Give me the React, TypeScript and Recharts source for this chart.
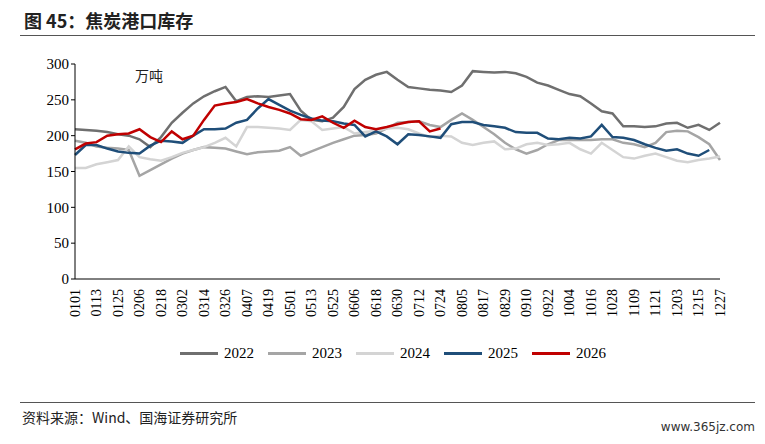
import React from 'react';
import { LineChart, Line, XAxis, YAxis } from 'recharts';

// weekly-ish dates, every 6 days; labels shown every 12 days
const dates = [
  '0101', '0107', '0113', '0119', '0125', '0131', '0206', '0212', '0218', '0224',
  '0302', '0308', '0314', '0320', '0326', '0401', '0407', '0413', '0419', '0425',
  '0501', '0507', '0513', '0519', '0525', '0531', '0606', '0612', '0618', '0624',
  '0630', '0706', '0712', '0718', '0724', '0730', '0805', '0811', '0817', '0823',
  '0829', '0904', '0910', '0916', '0922', '0928', '1004', '1010', '1016', '1022',
  '1028', '1103', '1109', '1115', '1121', '1127', '1203', '1209', '1215', '1221', '1227',
];

const s2022 = [
  209, 208, 207, 205, 202, 200, 195, 184, 198, 218, 232, 245, 255, 262, 268, 248, 254, 255, 254, 256,
  258, 235, 222, 220, 225, 240, 265, 278, 285, 289, 278, 268, 266, 264, 263, 261, 270, 290, 289, 288,
  289, 287, 282, 274, 270, 264, 258, 255, 245, 234, 231, 213, 213, 212, 213, 217, 218, 211, 215, 208, 218,
];
const s2023 = [
  193, 190, 185, 183, 182, 180, 144, 152, 160, 168, 175, 180, 184, 183, 182, 178, 174, 177, 178, 179,
  184, 172, 178, 184, 190, 195, 200, 201, 203, 210, 218, 219, 220, 215, 212, 222, 231, 222, 212, 202,
  190, 181, 175, 180, 188, 194, 194, 194, 194, 195, 195, 190, 188, 184, 190, 205, 207, 206, 198, 188, 166,
];
const s2024 = [
  155, 155, 160, 163, 166, 185, 170, 167, 165, 170, 176, 180, 184, 190, 197, 185, 212, 212, 211, 210,
  208, 222, 220, 208, 210, 212, 203, 205, 207, 210, 211, 209, 203, 198, 200, 199, 190, 187, 190, 192,
  181, 182, 188, 190, 187, 188, 190, 181, 175, 190, 180, 170, 168, 172, 175, 170, 165, 163, 166, 168, 171,
];
const s2025 = [
  173, 187, 187, 182, 178, 176, 175, 186, 193, 192, 190, 200, 209, 209, 210, 218, 222, 238, 251, 243,
  235, 229, 224, 221, 220, 217, 215, 199, 206, 199, 188, 202, 201, 199, 197, 216, 219, 219, 215, 213,
  211, 205, 204, 204, 196, 195, 197, 196, 199, 215, 198, 197, 194, 188, 183, 179, 181, 175, 172, 180, null,
];
const s2026 = [
  181, 189, 191, 200, 202, 203, 209, 198, 191, 206, 195, 200, 222, 242, 245, 247, 251, 245, 240, 236,
  231, 223, 222, 227, 218, 211, 221, 212, 209, 212, 216, 219, 220, 206, 210,
];

const yTicks = [0, 50, 100, 150, 200, 250, 300];

const seriesList = [
  { key: 'y2022', name: '2022', color: '#6f6f6f', values: s2022 },
  { key: 'y2023', name: '2023', color: '#a5a5a5', values: s2023 },
  { key: 'y2024', name: '2024', color: '#d4d4d4', values: s2024 },
  { key: 'y2025', name: '2025', color: '#1f4e79', values: s2025 },
  { key: 'y2026', name: '2026', color: '#c00000', values: s2026 },
];

const data = dates.map((d, i) => {
  const row: Record<string, string | number | null> = { date: d };
  seriesList.forEach(s => {
    row[s.key] = s.values[i] ?? null;
  });
  return row;
});

const serif = '"Liberation Serif", "Times New Roman", serif';
const cjk = '"Noto Sans CJK SC", sans-serif';

export default function App() {
  return (
    <div style={{ position: 'relative', width: 749, height: 428, background: '#fff' }}>
      <div style={{ position: 'absolute', left: 16, top: -1, fontFamily: cjk, fontWeight: 700, fontSize: 18, color: '#222' }}>
        图 45：焦炭港口库存
      </div>
      <div style={{ position: 'absolute', left: 12, top: 27, width: 735, borderTop: '1px solid #555' }} />
      <div style={{ position: 'absolute', left: 127, top: 57, fontFamily: cjk, fontSize: 14, color: '#222' }}>万吨</div>
      <div style={{ position: 'absolute', left: 0, top: 0 }}>
        <LineChart width={720} height={335} data={data} margin={{ top: 56, right: 8, left: 0, bottom: 0 }}>
          <XAxis
            dataKey="date"
            interval={1}
            angle={-90}
            textAnchor="end"
            height={64}
            tickLine={false}
            axisLine={{ stroke: '#000' }}
            tick={{ fontSize: 14, fill: '#000', fontFamily: serif, dx: -5, dy: 2 }}
          />
          <YAxis
            domain={[0, 300]}
            ticks={yTicks}
            width={67}
            tickSize={4}
            axisLine={{ stroke: '#000' }}
            tickLine={{ stroke: '#000' }}
            tick={{ fontSize: 15, fill: '#000', fontFamily: serif }}
          />
          {seriesList.map(s => (
            <Line
              key={s.key}
              dataKey={s.key}
              name={s.name}
              stroke={s.color}
              strokeWidth={2.5}
              dot={false}
              isAnimationActive={false}
              connectNulls={false}
            />
          ))}
        </LineChart>
      </div>
      <div style={{ position: 'absolute', left: 172, top: 337, display: 'flex', gap: 14, fontFamily: serif, fontSize: 15 }}>
        {seriesList.map(s => (
          <div key={s.key} style={{ display: 'flex', alignItems: 'center', gap: 6 }}>
            <div style={{ width: 38, height: 3, background: s.color }} />
            <span>{s.name}</span>
          </div>
        ))}
      </div>
      <div style={{ position: 'absolute', left: 12, top: 394, width: 735, borderTop: '1px solid #555' }} />
      <div style={{ position: 'absolute', left: 14, top: 399, fontFamily: cjk, fontSize: 14, color: '#222' }}>
        资料来源：Wind、国海证券研究所
      </div>
      <div style={{ position: 'absolute', right: 2, top: 412, fontFamily: '"DejaVu Sans", sans-serif', fontSize: 12, color: '#333' }}>
        www.365jz.com
      </div>
    </div>
  );
}
